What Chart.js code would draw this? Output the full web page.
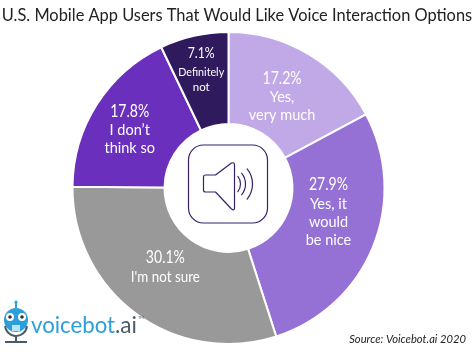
<!DOCTYPE html>
<html><head><meta charset="utf-8">
<style>html,body{margin:0;padding:0;background:#fff}canvas{display:block}</style>
<script src="https://cdn.jsdelivr.net/npm/chart.js@4"></script></head>
<body><canvas id="c" width="474" height="357"></canvas>
<script>
const titleText = "U.S. Mobile App Users That Would Like Voice Interaction Options";
const categories = ["Yes, very much","Yes, it would be nice","I'm not sure","I don't think so","Definitely not"];
const values = [17.2,27.9,30.1,17.8,7.1];
const valueLabels = ["17.2%","27.9%","30.1%","17.8%","7.1%"];
const labelLines = [["Yes,","very much"],["Yes, it","would","be nice"],["I'm not sure"],["I don’t","think so"],["Definitely","not"]];
const sliceColors = ["#c1a9e7","#9571d6","#999999","#6a2fbc","#2f1a5e"];
const labelOffsets = [[-3,3],[-2,-16.75],[2,-9.25],[-6,1],[-3,-10.5]];
const FONT = 'Lato, "Open Sans", sans-serif';

const centerIcon = {
  id:'centerIcon',
  afterDatasetsDraw(chart){
    const c = chart.ctx, a = chart.getDatasetMeta(0).data[0], x = a.x, y = a.y;
    c.save();
    c.strokeStyle = '#36206e'; c.lineWidth = 1.2; c.lineJoin='round'; c.lineCap='round';
    c.beginPath(); c.roundRect(x-40,y-43,79,78,15); c.stroke();
    c.beginPath();
    c.moveTo(x-23,y-13); c.lineTo(x-13,y-13); c.lineTo(x+3,y-25);
    c.quadraticCurveTo(x+6,y-26,x+6,y-23); c.lineTo(x+6,y+20);
    c.quadraticCurveTo(x+6,y+23,x+3,y+21); c.lineTo(x-13,y+4); c.lineTo(x-23,y+4);
    c.quadraticCurveTo(x-25,y+4,x-25,y+2); c.lineTo(x-25,y-11);
    c.quadraticCurveTo(x-25,y-13,x-23,y-13); c.closePath(); c.stroke();
    [12,17,24].forEach(r=>{
      c.beginPath(); c.arc(x,y-4,r,-.68,.68); c.stroke();
    });
    c.restore();
  }
};
const sliceLabels = {
  id:'sliceLabels',
  afterDatasetsDraw(chart){
    const c = chart.ctx;
    chart.getDatasetMeta(0).data.forEach((arc,i)=>{
      const p = arc.getCenterPoint();
      const small = i===4;
      const gap = small?20:19, lh = small?15:18;
      const x = p.x + labelOffsets[i][0];
      const total = gap + (labelLines[i].length-1)*lh;
      let y = p.y + labelOffsets[i][1] - total/2;
      c.save();
      c.fillStyle='#fff'; c.textAlign='center'; c.textBaseline='middle';
      c.font = (small?'15px ':'17px ')+FONT;
      c.fillText(valueLabels[i],x,y,small?27:39); y+=gap;
      c.font = (small?'11.5px ':'14.5px ')+FONT;
      labelLines[i].forEach(t=>{c.fillText(t,x,y,small?46:69); y+=lh;});
      c.restore();
    });
  }
};
const brand = {
  id:'brand',
  afterDraw(chart){
    const c = chart.ctx;
    c.save();
    c.textBaseline='middle'; c.textAlign='center';
    c.fillStyle='#222'; c.font='16.4px '+FONT;
    c.fillText(titleText,237,16);
    c.fillStyle='#2a9fdc';
    c.beginPath(); c.arc(16,302,1.6,0,7); c.fill();
    c.fillRect(15,303,2,5);
    c.beginPath(); c.arc(16,320,12,0,7); c.fill();
    c.fillStyle='#fff';
    c.beginPath(); c.arc(10,317,4,0,7); c.arc(22,317,4,0,7); c.fill();
    c.fillStyle='#333';
    c.beginPath(); c.arc(10,317,1.8,0,7); c.arc(22,317,1.8,0,7); c.fill();
    c.fillStyle='#bde3f7'; c.fillRect(12,325,8,6);
    c.strokeStyle='#4a5a68'; c.lineWidth=2;
    c.beginPath(); c.arc(16,325,11,0.1,Math.PI-0.1); c.stroke();
    c.beginPath(); c.moveTo(16,336); c.lineTo(16,341); c.moveTo(5,342); c.lineTo(27,342); c.stroke();
    c.textBaseline='alphabetic'; c.textAlign='left';
    c.font='22.5px '+FONT;
    c.fillStyle='#2a9fdc'; c.fillText('voicebot',31,333,84);
    c.fillStyle='#4a5a68'; c.fillText('.ai',115,333,23);
    c.font='4px '+FONT; c.fillText('TM',138,319);
    c.fillStyle='#222'; c.font='italic 11.2px '+FONT; c.textAlign='right';
    c.fillText('Source: Voicebot.ai 2020',466,343);
    c.restore();
  }
};
new Chart(document.getElementById('c'),{
  type:'doughnut',
  data:{labels:categories,datasets:[{data:values,backgroundColor:sliceColors,borderColor:'#fff',borderWidth:2,borderAlign:'center'}]},
  options:{
    responsive:false,animation:false,cutout:'41%',
    layout:{padding:{left:71,right:88,top:31,bottom:12}},
    plugins:{legend:{display:false},tooltip:{enabled:false},title:{display:false}}
  },
  plugins:[centerIcon,sliceLabels,brand]
});
</script></body></html>
